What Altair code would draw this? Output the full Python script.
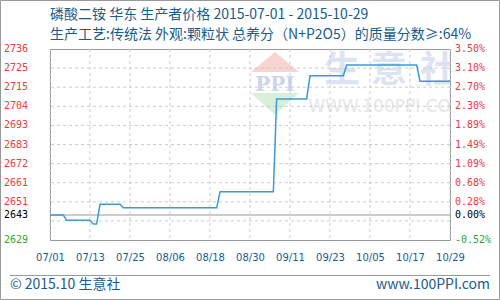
import altair as alt
import pandas as pd

# Daily producer price, East China DAP (change points only; line joins them)
dates = ["2015-07-01", "2015-07-05", "2015-07-06", "2015-07-13", "2015-07-14",
         "2015-07-15", "2015-07-16", "2015-07-22", "2015-07-23", "2015-08-20",
         "2015-08-21", "2015-09-06", "2015-09-07", "2015-09-16", "2015-09-17",
         "2015-09-27", "2015-09-28", "2015-10-19", "2015-10-20", "2015-10-29"]
prices = [2643, 2643, 2640, 2640, 2638, 2638, 2649, 2649, 2647, 2647,
          2656, 2656, 2708, 2708, 2721, 2721, 2727, 2727, 2718, 2718]

# Axis ticks
x_ticks = ["2015-07-01", "2015-07-13", "2015-07-25", "2015-08-06", "2015-08-18",
           "2015-08-30", "2015-09-11", "2015-09-23", "2015-10-05", "2015-10-17",
           "2015-10-29"]
y_tick_pos = [2736, 2725.3, 2714.6, 2703.9, 2693.2, 2682.5, 2671.8, 2661.1,
              2650.4, 2643, 2629]
left_labels = ["2736", "2725", "2715", "2704", "2693", "2683", "2672", "2661",
               "2651", "2643", "2629"]
right_labels = ["3.50%", "3.10%", "2.70%", "2.30%", "1.89%", "1.49%", "1.09%",
                "0.68%", "0.28%", "0.00%", "-0.52%"]
label_colors = ["#f03a3a"] * 9 + ["#000000", "#2ea82e"]
y_grid = [2725.3, 2714.6, 2703.9, 2693.2, 2682.5, 2671.8, 2661.1, 2650.4, 2639.7]
base_price = 2643

title_lines = ["磷酸二铵 华东 生产者价格 2015-07-01 - 2015-10-29",
               "生产工艺:传统法 外观:颗粒状 总养分（N+P2O5）的质量分数≥:64%"]

BLUE_TEXT = "#1a5b8c"
CJK = "Noto Sans CJK SC"

price_df = pd.DataFrame({"date": dates, "price": prices})
xgrid_df = pd.DataFrame({"date": x_ticks})
ygrid_df = pd.DataFrame({"price": y_grid})
ylab_df = pd.DataFrame({"price": y_tick_pos, "left": left_labels,
                        "right": right_labels, "color": label_colors})
one = pd.DataFrame({"k": [0]})


def dt(s):
    y, m, d = (int(p) for p in s.split("-"))
    return alt.DateTime(year=y, month=m, date=d, utc=True)


xscale = alt.Scale(type="utc", domain=[dt(x_ticks[0]), dt(x_ticks[-1])])
xaxis = alt.Axis(values=[dt(s) for s in x_ticks], format="%m/%d", title=None,
                 labelColor=BLUE_TEXT, labelFont="DejaVu Sans", labelFontSize=10,
                 labelPadding=12, ticks=False, domain=False, grid=False,
                 labelOverlap=False, labelFlush=False)
xenc = alt.X("date:T", scale=xscale, axis=xaxis)
yscale = alt.Scale(domain=[2629, 2736], nice=False, zero=False)
yenc = alt.Y("price:Q", scale=yscale, axis=None)

# Watermark
tri_up = alt.Chart(one).mark_point(
    shape="M0,-0.42L1,0.42L-1,0.42Z", filled=True, color="#f8d4d0", opacity=1, size=2304
).encode(x=alt.value(225), y=alt.value(13))
tri_down = alt.Chart(one).mark_point(
    shape="M-1,-0.46L1,-0.46L0,0.46Z", filled=True, color="#d8f0d8", opacity=1, size=2304
).encode(x=alt.value(225), y=alt.value(55))
ppi = alt.Chart(one).mark_text(
    text="PPI", font="DejaVu Serif", fontSize=20, fontWeight="bold", color="#cbd6ec"
).encode(x=alt.value(225), y=alt.value(36))
brand_df = pd.DataFrame({"ch": ["生", "意", "社"], "px": [292, 339, 388]})
brand = alt.Chart(brand_df).mark_text(
    font=CJK, fontSize=36, fontWeight="bold", color="#dde3f0", clip=True
).encode(x=alt.X("px:Q", scale=None), y=alt.value(22), text="ch:N")
site_mark = alt.Chart(one).mark_text(
    text="WWW.100PPI.COM", font="DejaVu Sans", fontSize=17, color="#e6e6e6", clip=True
).encode(x=alt.value(337), y=alt.value(58))

# Grid and base line
vgrid = alt.Chart(xgrid_df).mark_rule(color="#cccccc", strokeDash=[3, 3]).encode(x=xenc)
hgrid = alt.Chart(ygrid_df).mark_rule(color="#cccccc", strokeDash=[3, 3]).encode(y=yenc)
base = alt.Chart(pd.DataFrame({"price": [base_price]})).mark_rule(
    color="#999999").encode(y=yenc)

line = alt.Chart(price_df).mark_line(color="#3d9ad8", strokeWidth=1.5).encode(
    x=xenc, y=yenc)

# Tick labels on both sides
left_txt = alt.Chart(ylab_df).mark_text(
    align="right", baseline="middle", font="DejaVu Sans Mono", fontSize=10
).encode(x=alt.value(-22), y=yenc, text="left:N",
         color=alt.Color("color:N", scale=None))
right_txt = alt.Chart(ylab_df).mark_text(
    align="left", baseline="middle", font="DejaVu Sans Mono", fontSize=10
).encode(x=alt.value(405), y=yenc, text="right:N",
         color=alt.Color("color:N", scale=None))

# Titles
titles = alt.Chart(pd.DataFrame({"t": title_lines, "py": [-34, -14]})).mark_text(
    align="left", baseline="middle", font=CJK, fontSize=14, color=BLUE_TEXT
).encode(x=alt.value(0), y=alt.Y("py:Q", scale=None), text="t:N")

# Footer
footer_rule = alt.Chart(one).mark_rule(color="#999999").encode(
    x=alt.value(-40), x2=alt.value(440), y=alt.value(226.5))
footer_left = alt.Chart(one).mark_text(
    text="© 2015.10 生意社", align="left", baseline="middle", font=CJK,
    fontSize=14, color=BLUE_TEXT).encode(x=alt.value(-40), y=alt.value(236))
footer_right = alt.Chart(one).mark_text(
    text="www.100PPI.com", align="right", baseline="middle", font=CJK,
    fontSize=14, color=BLUE_TEXT).encode(x=alt.value(440), y=alt.value(236))

frame = alt.Chart(one).mark_rect(fillOpacity=0, stroke="#999999", strokeWidth=1).encode(
    x=alt.value(-49.5), x2=alt.value(449.5), y=alt.value(-48.5), y2=alt.value(250.5))

chart = alt.layer(
    tri_up, tri_down, ppi, brand, site_mark,
    vgrid, hgrid, base, line,
    left_txt, right_txt, titles,
    footer_rule, footer_left, footer_right, frame,
).properties(
    width=400, height=191,
    autosize=alt.AutoSizeParams(type="none"),
    padding={"left": 50, "top": 49, "right": 50, "bottom": 60},
    background="white",
).configure_view(stroke="#999999", strokeWidth=1)

chart.save("out.html", embed_options={"renderer": "svg", "actions": False})
